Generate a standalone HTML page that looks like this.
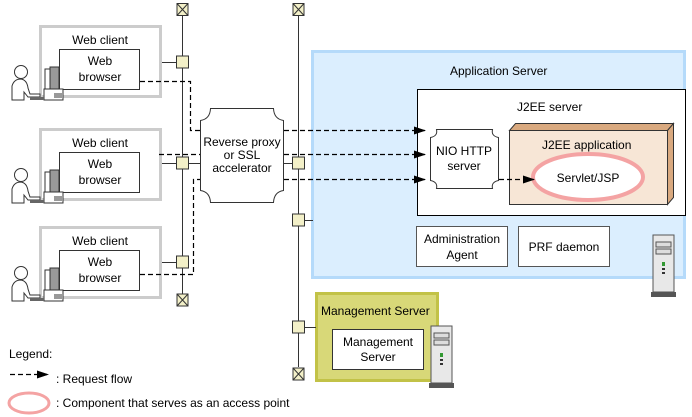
<!DOCTYPE html>
<html><head><meta charset="utf-8"><style>
body{margin:0;background:#fff}
svg{display:block}
text{font-family:"Liberation Sans",sans-serif;font-size:12px;fill:#000}
</style></head><body>
<svg width="692" height="417" viewBox="0 0 692 417" xmlns="http://www.w3.org/2000/svg">
<defs>
<marker id="ah" markerWidth="12" markerHeight="8" refX="11" refY="4" orient="auto" markerUnits="userSpaceOnUse"><path d="M0,0 L12,4 L0,8 Z" fill="#000"/></marker>
<g id="client">
 <circle cx="21" cy="72" r="6.5" fill="#fff" stroke="#333"/>
 <path d="M12,100 L12,86 Q14,79 21,79 Q27,80 28,88 L30,94 L40,94 L40,97 L28,97 L24,92 L24,100 Z" fill="#fff" stroke="#333"/>
 <rect x="45" y="69" width="5" height="20" fill="#fff" stroke="#333"/>
 <rect x="50" y="67" width="9" height="22" fill="#999" stroke="#333"/>
 <rect x="44" y="89" width="19" height="11" fill="#fff" stroke="#333"/>
 <path d="M55,93 v5 M57,93 v5 M59,93 v5 M61,93 v5" stroke="#333"/>
 <rect x="30" y="97" width="14" height="3" fill="#666"/>
</g>
<g id="tower">
 <rect x="2" y="0" width="21" height="57" fill="#e8e8e8" stroke="#555"/>
 <rect x="5" y="7" width="15" height="5" fill="#ddd" stroke="#555"/>
 <rect x="5" y="14" width="15" height="5" fill="#ddd" stroke="#555"/>
 <rect x="11" y="27" width="3" height="4" fill="#393"/>
 <rect x="11" y="33" width="3" height="2" fill="#333"/>
 <rect x="11" y="37" width="3" height="2" fill="#333"/>
 <rect x="0" y="57" width="25" height="5" fill="#555"/>
</g>
<g id="term"><rect x="-5.5" y="-6" width="11" height="12" fill="#f3f0c8" stroke="#333"/><path d="M-5.5,-6 L5.5,6 M5.5,-6 L-5.5,6" stroke="#333"/></g>
<g id="sq"><rect x="-6" y="-6" width="12" height="12" fill="#f3f0c8" stroke="#333"/></g>
</defs>

<!-- App server -->
<rect x="312.5" y="51.5" width="372" height="226" fill="#dbeefe" stroke="#b5dafa" stroke-width="3"/>
<text x="450" y="75">Application Server</text>
<rect x="417.5" y="89.5" width="268" height="126" fill="#fff" stroke="#000"/>
<text x="517" y="111">J2EE server</text>
<path d="M509.5,130.5 L515.5,123.5 L673.5,123.5 L667.5,130.5 Z" fill="#d9a97f" stroke="#333"/>
<path d="M667.5,130.5 L673.5,123.5 L673.5,197.5 L667.5,204.5 Z" fill="#d9a97f" stroke="#333"/>
<rect x="509.5" y="130.5" width="158" height="74" fill="#f7e6d6" stroke="#333"/>
<text x="542" y="149">J2EE application</text>
<ellipse cx="588" cy="177" rx="55" ry="23" fill="#fff" stroke="#f4a3a3" stroke-width="4"/>
<text x="588" y="182" text-anchor="middle">Servlet/JSP</text>
<path d="M436.5,129.5 L492.5,129.5 Q491,136 498.5,137.5 L498.5,180.5 Q491,182 492.5,188.5 L436.5,188.5 Q438,182 430.5,180.5 L430.5,137.5 Q438,136 436.5,129.5 Z" fill="#fff" stroke="#333"/>
<text x="464" y="155" text-anchor="middle">NIO HTTP</text>
<text x="464" y="170" text-anchor="middle">server</text>
<rect x="416.5" y="226.5" width="91" height="40" fill="#fff" stroke="#555"/>
<text x="462" y="243" text-anchor="middle">Administration</text>
<text x="462" y="259" text-anchor="middle">Agent</text>
<rect x="518.5" y="226.5" width="91" height="40" fill="#fff" stroke="#555"/>
<text x="564" y="251" text-anchor="middle">PRF daemon</text>
<use href="#tower" x="651" y="235"/>

<!-- Management -->
<rect x="316.5" y="293.5" width="121" height="87" fill="#d8d878" stroke="#c2c247" stroke-width="3"/>
<text x="321" y="315">Management Server</text>
<rect x="332.5" y="329.5" width="91" height="40" fill="#fff" stroke="#333"/>
<text x="378" y="346" text-anchor="middle">Management</text>
<text x="378" y="361" text-anchor="middle">Server</text>
<use href="#tower" x="429" y="326"/>

<!-- buses -->
<path d="M182.5,16 V294 M298.5,16 V367" stroke="#333"/>
<use href="#term" x="182.5" y="9.5"/><use href="#term" x="182.5" y="300"/>
<use href="#term" x="298.5" y="9.5"/><use href="#term" x="298.5" y="374"/>
<path d="M162,62.5 H177 M162,163.5 H177 M162,262.5 H177 M188,163.5 H200 M283,163.5 H293 M304,220.5 H313 M304,327.5 H316" stroke="#333"/>
<use href="#sq" x="182.5" y="62"/><use href="#sq" x="182.5" y="163"/><use href="#sq" x="182.5" y="262"/>
<use href="#sq" x="298.5" y="163"/><use href="#sq" x="298.5" y="220"/><use href="#sq" x="298.5" y="327"/>

<!-- clients -->
<g>
<rect x="40.5" y="26.5" width="120" height="70" fill="none" stroke="#ccc" stroke-width="3"/>
<text x="100" y="44" text-anchor="middle">Web client</text>
<rect x="59.5" y="49.5" width="80" height="40" fill="#fff" stroke="#333"/>
<text x="100" y="65" text-anchor="middle">Web</text><text x="100" y="81" text-anchor="middle">browser</text>
<use href="#client"/>
</g>
<g transform="translate(0,103)">
<rect x="40.5" y="26.5" width="120" height="70" fill="none" stroke="#ccc" stroke-width="3"/>
<text x="100" y="44" text-anchor="middle">Web client</text>
<rect x="59.5" y="49.5" width="80" height="40" fill="#fff" stroke="#333"/>
<text x="100" y="65" text-anchor="middle">Web</text><text x="100" y="81" text-anchor="middle">browser</text>
<use href="#client"/>
</g>
<g transform="translate(0,201)">
<rect x="40.5" y="26.5" width="120" height="70" fill="none" stroke="#ccc" stroke-width="3"/>
<text x="100" y="44" text-anchor="middle">Web client</text>
<rect x="59.5" y="49.5" width="80" height="40" fill="#fff" stroke="#333"/>
<text x="100" y="65" text-anchor="middle">Web</text><text x="100" y="81" text-anchor="middle">browser</text>
<use href="#client"/>
</g>

<!-- proxy -->
<path d="M210.5,108.5 L273.5,108.5 Q274,119 283.5,120.5 L283.5,190.5 Q274,192 273.5,202.5 L210.5,202.5 Q210,192 200.5,190.5 L200.5,120.5 Q210,119 210.5,108.5 Z" fill="#fff" stroke="#333"/>
<text x="242" y="146" text-anchor="middle">Reverse proxy</text>
<text x="242" y="159" text-anchor="middle">or SSL</text>
<text x="242" y="172" text-anchor="middle">accelerator</text>

<!-- dashed flows -->
<g stroke="#000" stroke-dasharray="5,3" fill="none" stroke-width="1.2">
<path d="M140,81.5 H190.5 V130.5 H200"/>
<path d="M159,154.5 H200"/>
<path d="M140,274.5 H193.5 V179.5 H200"/>
<path d="M284,130.5 H425" marker-end="url(#ah)"/>
<path d="M284,154.5 H425" marker-end="url(#ah)"/>
<path d="M284,179.5 H425" marker-end="url(#ah)"/>
<path d="M499,179.5 H534" marker-end="url(#ah)"/>
<path d="M10,374.5 H48" marker-end="url(#ah)"/>
</g>

<!-- legend -->
<text x="9" y="358">Legend:</text>
<text x="56" y="383">: Request flow</text>
<ellipse cx="29" cy="403" rx="20" ry="10" fill="#fff" stroke="#f4a3a3" stroke-width="3"/>
<text x="56" y="407">: Component that serves as an access point</text>
</svg>
</body></html>
